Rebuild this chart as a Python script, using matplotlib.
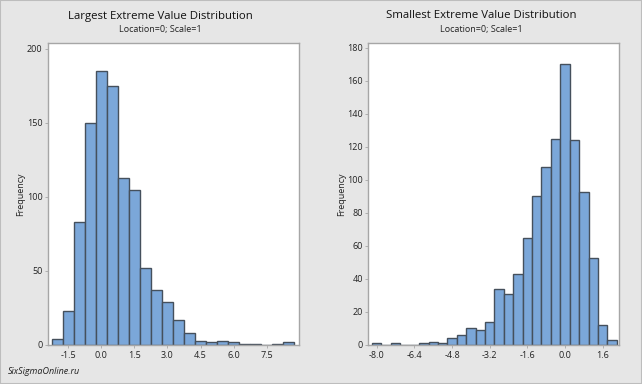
import numpy as np
import matplotlib
matplotlib.use("Agg")
import matplotlib.pyplot as plt

plt.rcParams['font.family'] = ['Open Sans', 'DejaVu Sans']

# Largest extreme value: bin centres and counts
large_bins = [-2.0, -1.5, -1.0, -0.5, 0.0, 0.5, 1.0, 1.5, 2.0, 2.5, 3.0,
              3.5, 4.0, 4.5, 5.0, 5.5, 6.0, 6.5, 7.0, 7.5, 8.0, 8.5]
large_counts = [4, 23, 83, 150, 185, 175, 113, 105, 52, 37, 29,
                17, 8, 3, 2, 3, 2, 1, 1, 0, 1, 2]
large_ticks = [-1.5, 0.0, 1.5, 3.0, 4.5, 6.0, 7.5]

# Smallest extreme value: bin centres and counts
small_bins = [-8.0, -7.6, -7.2, -6.8, -6.4, -6.0, -5.6, -5.2, -4.8, -4.4,
              -4.0, -3.6, -3.2, -2.8, -2.4, -2.0, -1.6, -1.2, -0.8, -0.4,
              0.0, 0.4, 0.8, 1.2, 1.6, 2.0]
small_counts = [1, 0, 1, 0, 0, 1, 2, 1, 4, 6,
                10, 9, 14, 34, 31, 43, 65, 90, 108, 125,
                170, 124, 93, 53, 12, 3]
small_ticks = [-8.0, -6.4, -4.8, -3.2, -1.6, 0.0, 1.6]

bg = '#e6e6e6'
bar_color = '#7ba7d9'
edge_color = '#45505c'
frame_color = '#a6a6a6'

fig = plt.figure(figsize=(6.42, 3.84), dpi=100, facecolor=bg)
fig.patches.append(plt.Rectangle((0, 0), 1, 1, transform=fig.transFigure,
                                 fill=False, edgecolor='#bdbdbd', lw=1.5))

panels = [
    (0.0748, large_bins, large_counts, 0.5, large_ticks, (-2.42, 8.97), (0, 204),
     [0, 50, 100, 150, 200], 'Largest Extreme Value Distribution', 0.25),
    (0.5737, small_bins, small_counts, 0.4, small_ticks, (-8.36, 2.31), (0, 183),
     list(range(0, 181, 20)), 'Smallest Extreme Value Distribution', 0.75),
]

for left, bins, counts, w, xt, xl, yl, yt, title, cx in panels:
    ax = fig.add_axes([left, 0.1016, 0.391, 0.7864])
    ax.set_facecolor('white')
    ax.bar(bins, counts, width=w, color=bar_color, edgecolor=edge_color, linewidth=1.0)
    ax.set_xlim(*xl)
    ax.set_ylim(*yl)
    ax.set_xticks(xt)
    ax.set_xticklabels(['%.1f' % t for t in xt])
    ax.set_yticks(yt)
    for s in ax.spines.values():
        s.set_color(frame_color)
        s.set_linewidth(1.0)
    ax.tick_params(labelsize=6.5, length=2.5, width=0.6, color=frame_color, pad=1.5,
                   labelcolor='#222222')
    ax.set_ylabel('Frequency', fontsize=6.5, color='#222222', va='center')
    ax.yaxis.set_label_coords(-0.108, 0.5)
    fig.text(cx, 1 - 16 / 384, title, ha='center', va='center', fontsize=8.2,
             color='#111111')
    fig.text(cx, 1 - 29.5 / 384, 'Location=0; Scale=1', ha='center', va='center',
             fontsize=6.5, color='#222222')

fig.text(8 / 642, 1 - 372 / 384, 'SixSigmaOnline.ru', ha='left', va='center',
         fontsize=6.5, style='italic', color='#222222')

fig.savefig('out.png', dpi=100, facecolor=bg)
